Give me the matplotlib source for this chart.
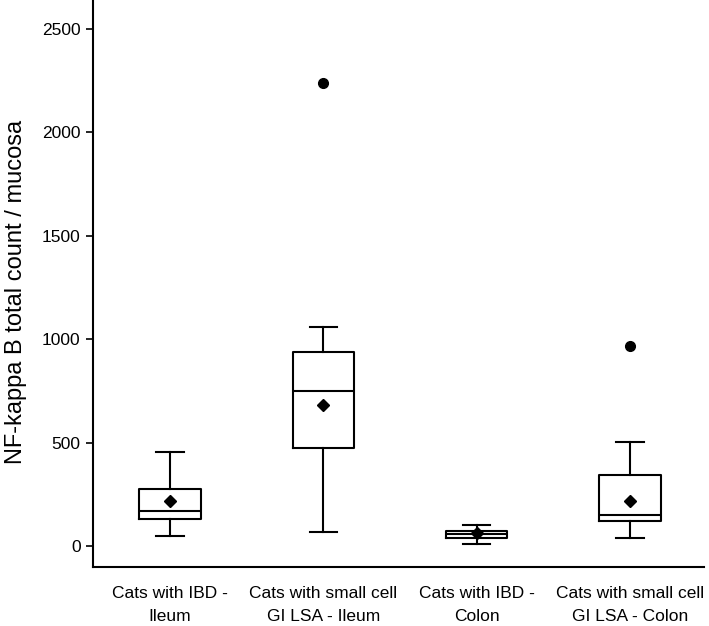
import matplotlib
matplotlib.use("Agg")
import matplotlib.pyplot as plt

plt.rcParams['font.family'] = ['Liberation Sans', 'DejaVu Sans']

categories = ["Cats with IBD -\nIleum", "Cats with small cell\nGI LSA - Ileum",
              "Cats with IBD -\nColon", "Cats with small cell\nGI LSA - Colon"]
whislo = [52, 72, 12, 43]
q1 = [133, 474, 41, 123]
med = [173, 751, 60, 152]
q3 = [278, 940, 75, 345]
whishi = [456, 1060, 104, 506]
means = [220, 682, 65, 220]
fliers = [[], [2238], [], [969]]
yticks = [0, 500, 1000, 1500, 2000, 2500]

stats = []
for i in range(len(categories)):
    stats.append(dict(whislo=whislo[i], q1=q1[i], med=med[i], q3=q3[i],
                      whishi=whishi[i], mean=means[i], fliers=fliers[i],
                      label=categories[i]))

fig = plt.figure(figsize=(7.09, 6.26), dpi=100)
ax = fig.add_axes([0.1312, 0.0947, 0.8618, 0.9053])

lw = 1.5
ax.bxp(stats, positions=[1, 2, 3, 4], widths=0.40, capwidths=0.18,
       showmeans=True, showfliers=True,
       boxprops=dict(color='black', linewidth=lw),
       whiskerprops=dict(color='black', linewidth=lw),
       capprops=dict(color='black', linewidth=lw),
       medianprops=dict(color='black', linewidth=lw),
       meanprops=dict(marker='D', markerfacecolor='black', markeredgecolor='black',
                      markersize=6.5),
       flierprops=dict(marker='o', markerfacecolor='black', markeredgecolor='black',
                       markersize=7))

ax.set_xlim(0.498, 4.483)
ax.set_ylim(-98, 2640)
ax.set_yticks(yticks)
ax.set_yticklabels([str(v) for v in yticks], fontsize=12.5)
ax.set_xticks([1, 2, 3, 4])
ax.set_xticklabels(categories, fontsize=12.5, linespacing=1.65)
ax.tick_params(axis='x', length=0, pad=14)
ax.tick_params(axis='y', length=5, width=1.2, direction='out', pad=4)
for s in ['top', 'right']:
    ax.spines[s].set_visible(False)
for s in ['left', 'bottom']:
    ax.spines[s].set_linewidth(1.5)
    ax.spines[s].set_color('black')
ax.set_ylabel("NF-kappa B total count / mucosa", fontsize=17)
ax.yaxis.set_label_coords(-0.108, 0.485)

fig.savefig("out.png", dpi=100)
